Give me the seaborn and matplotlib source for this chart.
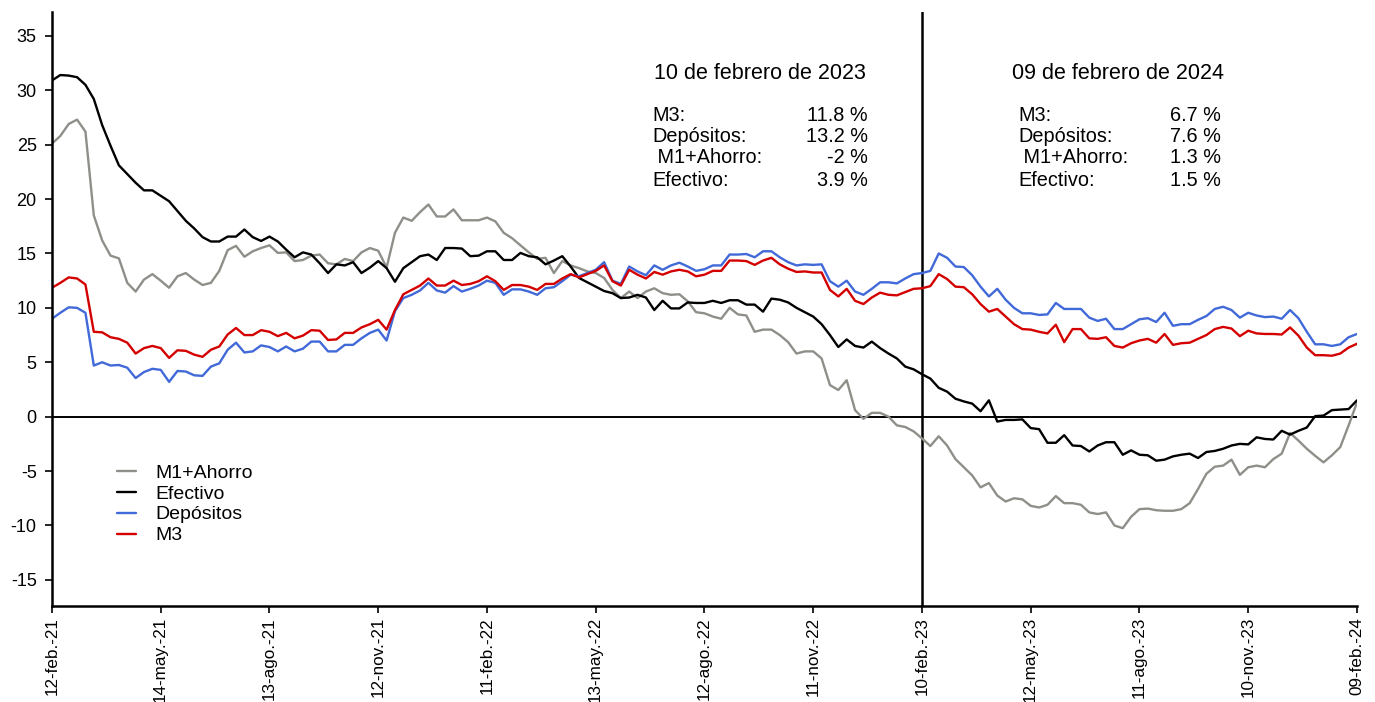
import pandas as pd
import matplotlib
matplotlib.use('Agg')
import matplotlib.pyplot as plt
import seaborn as sns

# Tasas de variación anual (%) semanales, 12-feb-21 a 09-feb-24
fechas = pd.date_range('2021-02-12', periods=157, freq='7D')

efectivo = [
    30.9, 31.4, 31.35, 31.2, 30.5, 29.2, 26.8, 24.9, 23.1, 22.3,
    21.5, 20.8, 20.8, 20.3, 19.8, 18.9, 18.0, 17.3, 16.5, 16.1,
    16.1, 16.55, 16.55, 17.2, 16.5, 16.15, 16.55, 16.1, 15.35, 14.65,
    15.1, 14.9, 14.1, 13.2, 14.0, 13.9, 14.2, 13.2, 13.7, 14.3,
    13.65, 12.4, 13.65, 14.2, 14.75, 14.9, 14.4, 15.5, 15.5, 15.45,
    14.75, 14.8, 15.2, 15.2, 14.4, 14.4, 15.05, 14.75, 14.65, 14.0,
    14.35, 14.75, 13.8, 12.75, 12.35, 11.95, 11.55, 11.35, 10.9, 10.95,
    11.2, 10.95, 9.8, 10.65, 9.95, 9.95, 10.5, 10.45, 10.45, 10.65,
    10.45, 10.7, 10.7, 10.3, 10.3, 9.65, 10.85, 10.75, 10.5, 10.0,
    9.6, 9.2, 8.5, 7.5, 6.4, 7.1, 6.5, 6.35, 6.9, 6.3,
    5.8, 5.35, 4.6, 4.35, 3.9, 3.5, 2.65, 2.3, 1.65, 1.4,
    1.2, 0.5, 1.5, -0.45, -0.3, -0.3, -0.25, -1.05, -1.15, -2.4,
    -2.4, -1.7, -2.65, -2.7, -3.2, -2.65, -2.35, -2.35, -3.5, -3.1,
    -3.5, -3.55, -4.05, -3.95, -3.65, -3.5, -3.4, -3.8, -3.25, -3.15,
    -2.95, -2.65, -2.5, -2.55, -1.9, -2.05, -2.1, -1.3, -1.65, -1.3,
    -1.0, 0.05, 0.1, 0.6, 0.65, 0.7, 1.5,
]

m1_ahorro = [
    25.1, 25.8, 26.9, 27.3, 26.2, 18.5, 16.2, 14.8, 14.55, 12.3,
    11.5, 12.6, 13.1, 12.5, 11.85, 12.9, 13.2, 12.6, 12.1, 12.3,
    13.4, 15.3, 15.7, 14.7, 15.2, 15.5, 15.75, 15.05, 15.1, 14.3,
    14.4, 14.8, 14.9, 14.1, 14.0, 14.5, 14.3, 15.1, 15.5, 15.25,
    13.7, 16.9, 18.3, 18.0, 18.8, 19.5, 18.4, 18.4, 19.05, 18.05,
    18.05, 18.05, 18.3, 17.95, 16.9, 16.4, 15.75, 15.1, 14.5, 14.6,
    13.2, 14.3, 13.9, 13.65, 13.35, 13.2, 12.75, 11.65, 10.9, 11.5,
    10.9, 11.5, 11.8, 11.35, 11.2, 11.25, 10.6, 9.6, 9.5, 9.2,
    9.0, 10.0, 9.4, 9.3, 7.8, 8.0, 8.0, 7.5, 6.85, 5.8,
    6.0, 6.0, 5.35, 2.9, 2.45, 3.35, 0.6, -0.2, 0.35, 0.35,
    0.0, -0.8, -0.95, -1.35, -2.0, -2.7, -1.8, -2.65, -3.9, -4.65,
    -5.4, -6.5, -6.1, -7.25, -7.8, -7.5, -7.6, -8.2, -8.35, -8.1,
    -7.3, -7.95, -7.95, -8.1, -8.8, -8.95, -8.8, -10.0, -10.25, -9.2,
    -8.5, -8.45, -8.6, -8.65, -8.65, -8.5, -7.95, -6.65, -5.25, -4.6,
    -4.5, -3.95, -5.35, -4.65, -4.5, -4.65, -3.9, -3.4, -1.5, -2.2,
    -2.95, -3.6, -4.2, -3.55, -2.8, -0.8, 1.3,
]

depositos = [
    9.0, 9.55, 10.05, 10.0, 9.55, 4.7, 5.0, 4.7, 4.75, 4.5,
    3.55, 4.1, 4.4, 4.3, 3.2, 4.2, 4.15, 3.8, 3.75, 4.6,
    4.9, 6.15, 6.8, 5.9, 6.0, 6.55, 6.4, 6.0, 6.45, 6.0,
    6.25, 6.9, 6.9, 6.0, 6.0, 6.6, 6.6, 7.2, 7.7, 8.0,
    7.0, 9.7, 10.9, 11.2, 11.6, 12.3, 11.6, 11.4, 12.0, 11.5,
    11.75, 12.05, 12.5, 12.3, 11.2, 11.7, 11.7, 11.5, 11.2, 11.8,
    11.9, 12.45, 13.05, 12.9, 13.2, 13.5, 14.2, 12.5, 12.2, 13.8,
    13.35, 13.0, 13.9, 13.5, 13.9, 14.15, 13.8, 13.4, 13.55, 13.9,
    13.9, 14.9, 14.9, 14.95, 14.65, 15.2, 15.2, 14.65, 14.2, 13.9,
    14.0, 13.95, 14.0, 12.45, 11.95, 12.5, 11.5, 11.2, 11.75, 12.35,
    12.35, 12.25, 12.7, 13.1, 13.2, 13.4, 15.0, 14.6, 13.8, 13.75,
    13.0, 11.95, 11.05, 11.75, 10.75, 10.0, 9.5, 9.5, 9.35, 9.4,
    10.45, 9.9, 9.9, 9.9, 9.1, 8.8, 9.0, 8.05, 8.05, 8.5,
    8.95, 9.05, 8.7, 9.55, 8.35, 8.5, 8.5, 8.9, 9.25, 9.9,
    10.1, 9.8, 9.1, 9.55, 9.3, 9.15, 9.2, 9.0, 9.8, 9.05,
    7.8, 6.65, 6.65, 6.5, 6.65, 7.3, 7.6,
]

m3 = [
    11.85, 12.3, 12.8, 12.7, 12.15, 7.8, 7.75, 7.3, 7.15, 6.8,
    5.8, 6.3, 6.5, 6.3, 5.4, 6.1, 6.05, 5.7, 5.5, 6.15,
    6.45, 7.55, 8.15, 7.5, 7.5, 7.95, 7.8, 7.4, 7.7, 7.2,
    7.45, 7.95, 7.9, 7.05, 7.1, 7.7, 7.7, 8.2, 8.5, 8.9,
    8.0, 9.8, 11.25, 11.65, 12.05, 12.7, 12.05, 12.05, 12.5, 12.1,
    12.2, 12.45, 12.9, 12.45, 11.65, 12.1, 12.1, 11.95, 11.65, 12.2,
    12.2, 12.7, 13.1, 12.8, 13.1, 13.4, 13.9, 12.45, 12.05, 13.5,
    13.05, 12.7, 13.3, 13.05, 13.35, 13.5, 13.35, 12.9, 13.05, 13.4,
    13.4, 14.35, 14.35, 14.3, 13.95, 14.35, 14.6, 14.0, 13.6, 13.3,
    13.35, 13.25, 13.25, 11.65, 11.05, 11.75, 10.65, 10.35, 10.95, 11.4,
    11.2, 11.15, 11.45, 11.75, 11.8, 12.0, 13.1, 12.65, 11.95, 11.9,
    11.25, 10.35, 9.65, 9.9, 9.2, 8.5, 8.05, 8.0, 7.8, 7.65,
    8.45, 6.85, 8.05, 8.05, 7.2, 7.15, 7.3, 6.5, 6.35, 6.75,
    7.0, 7.15, 6.8, 7.6, 6.6, 6.75, 6.8, 7.15, 7.5, 8.05,
    8.25, 8.1, 7.4, 7.9, 7.65, 7.6, 7.6, 7.55, 8.2, 7.45,
    6.35, 5.65, 5.65, 5.6, 5.8, 6.35, 6.7,
]

series = ['M1+Ahorro', 'Efectivo', 'Depósitos', 'M3']
colores = {'M1+Ahorro': '#8f8f8a', 'Efectivo': '#000000',
           'Depósitos': '#4169d8', 'M3': '#d40000'}

tick_fechas = pd.date_range('2021-02-12', periods=13, freq='91D')
tick_labels = ['12-feb.-21', '14-may.-21', '13-ago.-21', '12-nov.-21',
               '11-feb.-22', '13-may.-22', '12-ago.-22', '11-nov.-22',
               '10-feb.-23', '12-may.-23', '11-ago.-23', '10-nov.-23',
               '09-feb.-24']

fecha_corte = pd.Timestamp('2023-02-10')
titulo_1 = '10 de febrero de 2023'
titulo_2 = '09 de febrero de 2024'

# DataFrame largo para seaborn
df = pd.DataFrame({'fecha': fechas, 'M1+Ahorro': m1_ahorro, 'Efectivo': efectivo,
                   'Depósitos': depositos, 'M3': m3})
df_long = df.melt(id_vars='fecha', var_name='serie', value_name='valor')

sns.set_style('ticks')
plt.rcParams['font.family'] = ['Liberation Sans', 'DejaVu Sans']
plt.rcParams['axes.unicode_minus'] = False
for k in ['text.color', 'axes.labelcolor', 'xtick.color', 'ytick.color',
          'axes.edgecolor']:
    plt.rcParams[k] = 'black'

fig = plt.figure(figsize=(13.75, 7.02), dpi=100)
ax = fig.add_axes([0.0378, 0.1368, 0.9491, 0.8462])

sns.lineplot(data=df_long, x='fecha', y='valor', hue='serie', hue_order=series,
             palette=colores, linewidth=1.7, ax=ax)

ax.axhline(0, color='black', linewidth=1.4, zorder=1)
ax.axvline(fecha_corte, color='black', linewidth=1.8, zorder=1)

ax.set_xlim(fechas[0], fechas[-1])
ax.set_ylim(-17.4, 37.2)
ax.set_yticks(range(-15, 40, 5))
ax.set_xticks(tick_fechas)
ax.set_xticklabels(tick_labels, rotation=90, fontsize=12.3)
ax.tick_params(axis='y', labelsize=13, length=5, width=1.2, pad=6)
ax.tick_params(axis='x', length=5, width=1.2, pad=3)
ax.set_xlabel('')
ax.set_ylabel('')
sns.despine(ax=ax)
for s in ['left', 'bottom']:
    ax.spines[s].set_linewidth(1.8)

# Cuadros de texto con los valores en cada fecha
i1 = list(fechas).index(fecha_corte)
i2 = len(fechas) - 1
filas = [('M3:', m3), ('Depósitos:', depositos), (' M1+Ahorro:', m1_ahorro),
         ('Efectivo:', efectivo)]
ys = [0.825, 0.7896, 0.7542, 0.7155]
for titulo, idx, xc, xl, xr in [(titulo_1, i1, 0.5425, 0.4598, 0.6253),
                                (titulo_2, i2, 0.8169, 0.7402, 0.8958)]:
    ax.text(xc, 0.897, titulo, transform=ax.transAxes, ha='center', va='center',
            fontsize=15.5)
    for (nombre, valores), y in zip(filas, ys):
        ax.text(xl, y, nombre, transform=ax.transAxes, ha='left', va='center',
                fontsize=14.3)
        ax.text(xr, y, f'{valores[idx]:g} %', transform=ax.transAxes, ha='right',
                va='center', fontsize=14.3)

ax.legend(loc='upper left', bbox_to_anchor=(0.044, 0.252), frameon=False,
          fontsize=14, handlelength=0.95, handletextpad=1.0, labelspacing=0.17,
          borderaxespad=0)

fig.savefig('out.png', dpi=100)
